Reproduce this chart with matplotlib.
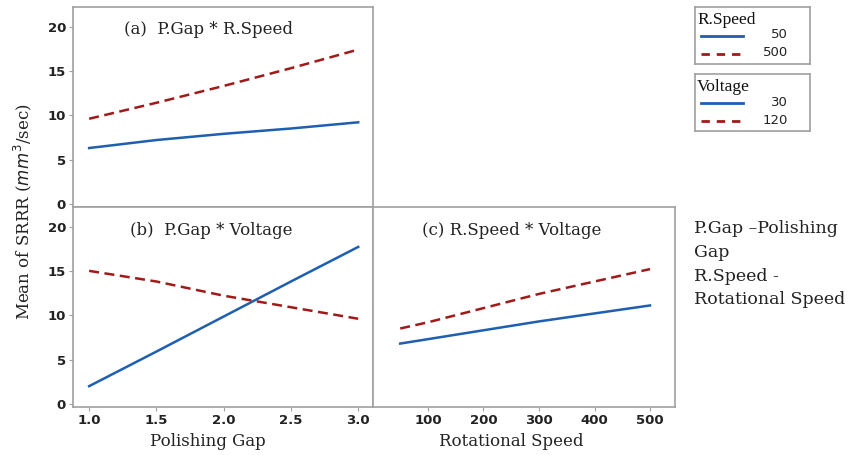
import matplotlib
matplotlib.use("Agg")
import matplotlib.pyplot as plt
from matplotlib.lines import Line2D

# ---- data ----
gap = [1.0, 1.5, 2.0, 2.5, 3.0]
a_speed50 = [6.3, 7.2, 7.9, 8.5, 9.2]
a_speed500 = [9.6, 11.4, 13.3, 15.3, 17.4]
b_volt30 = [2.0, 5.9, 9.85, 13.8, 17.7]
b_volt120 = [15.0, 13.8, 12.2, 10.9, 9.6]
speed = [50, 100, 200, 300, 400, 500]
c_volt30 = [6.8, 7.3, 8.3, 9.3, 10.2, 11.1]
c_volt120 = [8.5, 9.2, 10.8, 12.4, 13.8, 15.2]
yticks = [0, 5, 10, 15, 20]
gap_ticks = [1.0, 1.5, 2.0, 2.5, 3.0]
speed_ticks = [100, 200, 300, 400, 500]

BLUE = "#1f5fb0"
RED = "#a01a1a"
FRAME = "#a0a0a0"
SERIF = "DejaVu Serif"
LW = 1.8
DASH = (0, (4, 2.2))

W, H = 849, 455
fig = plt.figure(figsize=(W / 100, H / 100), dpi=100)


def ax_rect(x0, y0, x1, y1):
    return [x0 / W, 1 - y1 / H, (x1 - x0) / W, (y1 - y0) / H]


def style(ax, xlim, xticks, xlabels=True):
    ax.set_ylim(-0.35, 22.2)
    ax.set_xlim(*xlim)
    ax.set_yticks(yticks)
    ax.set_xticks(xticks)
    for s in ax.spines.values():
        s.set_color(FRAME)
        s.set_linewidth(1.2)
    ax.tick_params(colors=FRAME, labelcolor="#222222", length=3, width=0.8,
                   labelsize=9.5, pad=2)
    for lab in ax.get_xticklabels() + ax.get_yticklabels():
        lab.set_fontweight("bold")
    if not xlabels:
        ax.tick_params(axis="x", length=0, labelbottom=False)


ax_a = fig.add_axes(ax_rect(73, 7, 373, 207))
ax_b = fig.add_axes(ax_rect(73, 207, 373, 407))
ax_c = fig.add_axes(ax_rect(373, 207, 675, 407))

ax_a.plot(gap, a_speed50, color=BLUE, lw=LW)
ax_a.plot(gap, a_speed500, color=RED, lw=LW, ls=DASH)
style(ax_a, (0.88, 3.11), gap_ticks, xlabels=False)

ax_b.plot(gap, b_volt30, color=BLUE, lw=LW)
ax_b.plot(gap, b_volt120, color=RED, lw=LW, ls=DASH)
style(ax_b, (0.88, 3.11), gap_ticks)
ax_b.set_xticklabels([f"{v:.1f}" for v in gap_ticks])
for lab in ax_b.get_xticklabels():
    lab.set_fontweight("bold")

ax_c.plot(speed, c_volt30, color=BLUE, lw=LW)
ax_c.plot(speed, c_volt120, color=RED, lw=LW, ls=DASH)
style(ax_c, (1, 545), speed_ticks)
ax_c.tick_params(axis="y", labelleft=False, length=0)

# panel titles
ax_a.text(0.45, 0.89, "(a)  P.Gap * R.Speed", transform=ax_a.transAxes,
          ha="center", va="center", fontsize=12, family=SERIF, color="#222222")
ax_b.text(0.46, 0.885, "(b)  P.Gap * Voltage", transform=ax_b.transAxes,
          ha="center", va="center", fontsize=12, family=SERIF, color="#222222")
ax_c.text(0.46, 0.885, "(c) R.Speed * Voltage", transform=ax_c.transAxes,
          ha="center", va="center", fontsize=12, family=SERIF, color="#222222")

# axis labels
fig.text(208 / W, 1 - 442 / H, "Polishing Gap", ha="center", va="center",
         fontsize=12, family=SERIF, color="#222222")
fig.text(511 / W, 1 - 442 / H, "Rotational Speed", ha="center", va="center",
         fontsize=12, family=SERIF, color="#222222")
fig.text(23 / W, 1 - 212 / H, r"Mean of SRRR ($mm^3$/sec)", rotation=90,
         ha="center", va="center", fontsize=12, family=SERIF, color="#222222")

# notes
fig.text(694 / W, 1 - 220 / H,
         "P.Gap \u2013Polishing\nGap\nR.Speed -\nRotational Speed",
         ha="left", va="top", fontsize=12.5, family=SERIF, color="#222222",
         linespacing=1.52)

# legends
def legend_box(x0, y0, title, labels):
    lax = fig.add_axes(ax_rect(x0, y0, x0 + 115, y0 + 57))
    lax.set_xlim(0, 115)
    lax.set_ylim(57, 0)
    lax.set_xticks([])
    lax.set_yticks([])
    for s in lax.spines.values():
        s.set_color(FRAME)
        s.set_linewidth(1.2)
    lax.text(2, 13, title, ha="left", va="center", fontsize=12.5,
             family="Liberation Serif", color="#111111")
    lax.add_line(Line2D([6, 48], [29, 29], color=BLUE, lw=2))
    lax.add_line(Line2D([6, 48], [47, 47], color=RED, lw=2, ls=(0, (3, 2.5))))
    lax.text(93, 28, labels[0], ha="right", va="center", fontsize=9.5,
             family="DejaVu Sans", color="#222222")
    lax.text(93, 46, labels[1], ha="right", va="center", fontsize=9.5,
             family="DejaVu Sans", color="#222222")


legend_box(695, 7, "R.Speed", ["50", "500"])
legend_box(695, 74, "Voltage", ["30", "120"])

fig.savefig("out.png", dpi=100)
